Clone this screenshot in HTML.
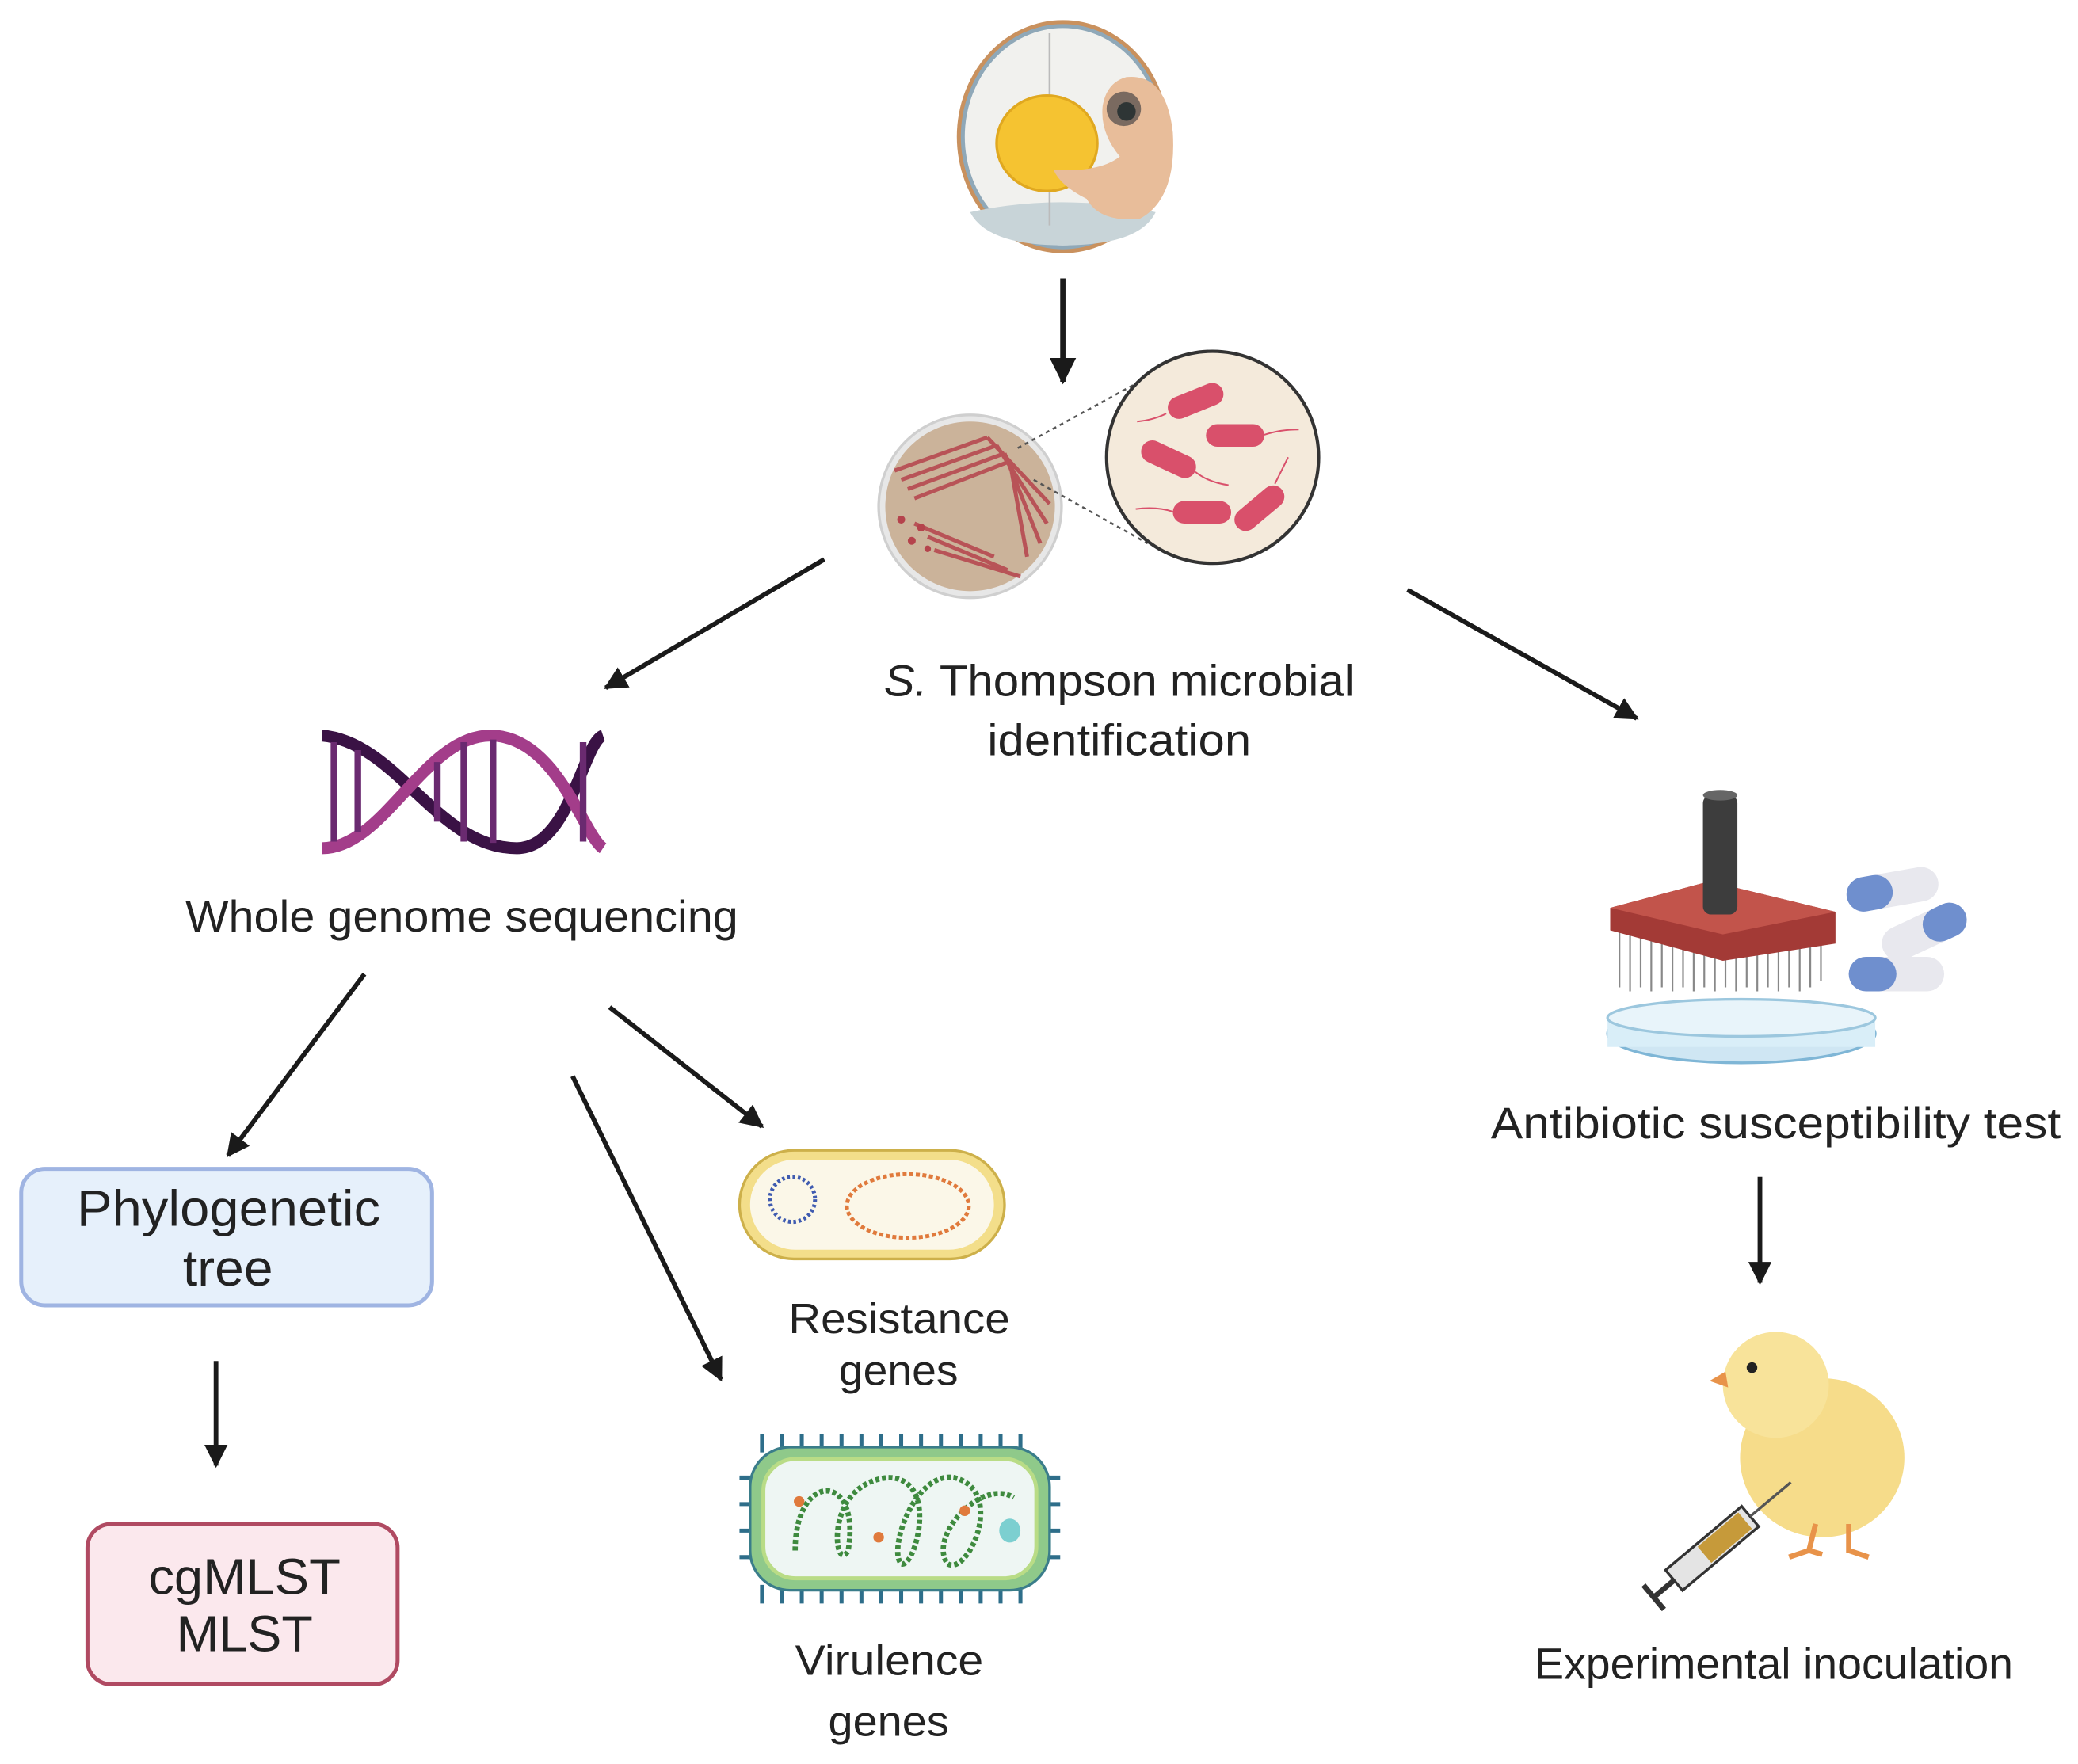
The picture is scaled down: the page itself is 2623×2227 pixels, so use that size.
<!DOCTYPE html>
<html><head><meta charset="utf-8"><style>
html,body{margin:0;padding:0;background:#fff;}
svg{display:block;}
text{font-family:"Liberation Sans",sans-serif;fill:#222;}
</style></head><body>
<svg width="2623" height="2227" viewBox="0 0 1568 1331" xmlns="http://www.w3.org/2000/svg">
<defs>
<marker id="ah" viewBox="0 0 10 10" refX="9" refY="5" markerWidth="5" markerHeight="5" orient="auto-start-reverse" markerUnits="strokeWidth">
<path d="M0,0 L10,5 L0,10 z" fill="#1a1a1a"/></marker>
</defs>
<!-- Egg -->
<ellipse cx="802" cy="103" rx="80" ry="88" fill="#c9915e"/>
<ellipse cx="802" cy="103" rx="77" ry="85" fill="#8fa8b8"/>
<ellipse cx="802" cy="103" rx="74" ry="82" fill="#f1f1ee"/>
<path d="M732,160 Q800,145 872,160 Q860,185 802,185 Q745,185 732,160z" fill="#c8d4d8"/>
<line x1="792" y1="25" x2="792" y2="75" stroke="#bbb" stroke-width="1.5"/>
<line x1="792" y1="140" x2="792" y2="170" stroke="#bbb" stroke-width="1.5"/>
<ellipse cx="790" cy="108" rx="38" ry="36" fill="#f5c331" stroke="#e0a820" stroke-width="2"/>
<path d="M850,58 Q880,55 885,100 Q888,150 860,165 Q830,168 820,150 Q800,140 795,128 Q830,130 845,118 Q830,100 832,80 Q835,62 850,58z" fill="#e8bd9a"/>
<circle cx="848" cy="82" r="13" fill="#7a6a60"/><circle cx="850" cy="84" r="7" fill="#2e3535"/>
<line x1="802" y1="210" x2="802" y2="288" stroke="#1a1a1a" stroke-width="4" marker-end="url(#ah)"/>
<!-- petri -->
<circle cx="732" cy="382" r="69" fill="#e7e7e7" stroke="#cfcfcf" stroke-width="2"/>
<circle cx="732" cy="382" r="64" fill="#cbb39a"/>
<g stroke="#b5434c" stroke-width="3" fill="none" opacity="0.85">
<path d="M675,355 L745,330 M680,362 L752,336 M685,369 L758,342 M690,376 L762,348"/>
<path d="M752,336 L790,395 M758,342 L785,410 M762,348 L775,420 M745,330 L792,380"/>
<path d="M700,405 L760,430 M705,415 L770,435 M690,395 L750,420"/>
</g>
<g fill="#b5434c"><circle cx="680" cy="392" r="3"/><circle cx="695" cy="398" r="3"/><circle cx="688" cy="408" r="3"/><circle cx="700" cy="414" r="2.5"/></g>
<g stroke="#555" stroke-width="1.5" stroke-dasharray="3,3"><line x1="768" y1="338" x2="856" y2="290"/><line x1="780" y1="362" x2="866" y2="410"/></g>
<circle cx="915" cy="345" r="80" fill="#f4eadb" stroke="#333" stroke-width="2.5"/>
<g fill="#d9506b">
<rect x="880" y="294" width="44" height="17" rx="8.5" transform="rotate(-22 902 302)"/>
<rect x="910" y="320" width="44" height="17" rx="8.5"/>
<rect x="860" y="338" width="44" height="17" rx="8.5" transform="rotate(25 882 346)"/>
<rect x="885" y="378" width="44" height="17" rx="8.5"/>
<rect x="928" y="375" width="44" height="17" rx="8.5" transform="rotate(-40 950 383)"/>
</g>
<g stroke="#d9506b" stroke-width="1.2" fill="none">
<path d="M880,312 q-10,5 -22,6"/><path d="M954,328 q12,-4 26,-4"/><path d="M902,356 q10,8 25,10"/><path d="M885,386 q-12,-4 -28,-2"/><path d="M962,365 q6,-12 10,-20"/>
</g>
<text x="667" y="525" font-size="33" textLength="355" lengthAdjust="spacingAndGlyphs"><tspan font-style="italic">S.</tspan> Thompson microbial</text>
<text x="745" y="570" font-size="33" textLength="199" lengthAdjust="spacingAndGlyphs">identification</text>
<line x1="622" y1="422" x2="457" y2="519" stroke="#1a1a1a" stroke-width="3.5" marker-end="url(#ah)"/>
<line x1="1062" y1="445" x2="1235" y2="542" stroke="#1a1a1a" stroke-width="3.5" marker-end="url(#ah)"/>
<!-- DNA -->
<g fill="none" stroke-width="9">
<path d="M243,555 C300,560 330,640 390,640 C430,640 440,560 455,555" stroke="#3a1245"/>
<path d="M243,640 C290,640 320,555 370,555 C420,555 440,630 455,640" stroke="#a33d8a"/>
</g>
<g stroke="#6a2a70" stroke-width="5">
<line x1="252" y1="560" x2="252" y2="635"/><line x1="270" y1="566" x2="270" y2="628"/><line x1="330" y1="575" x2="330" y2="620"/><line x1="350" y1="560" x2="350" y2="635"/><line x1="372" y1="558" x2="372" y2="636"/><line x1="440" y1="560" x2="440" y2="635"/>
</g>
<text x="140" y="703" font-size="33" textLength="417" lengthAdjust="spacingAndGlyphs">Whole genome sequencing</text>
<line x1="275" y1="735" x2="172" y2="872" stroke="#1a1a1a" stroke-width="3.5" marker-end="url(#ah)"/>
<line x1="460" y1="760" x2="575" y2="850" stroke="#1a1a1a" stroke-width="3.5" marker-end="url(#ah)"/>
<line x1="432" y1="812" x2="544" y2="1041" stroke="#1a1a1a" stroke-width="3.5" marker-end="url(#ah)"/>
<rect x="16" y="882" width="310" height="103" rx="18" fill="#e6f0fb" stroke="#9fb4e2" stroke-width="3"/>
<text x="58" y="925" font-size="38" textLength="229" lengthAdjust="spacingAndGlyphs">Phylogenetic</text>
<text x="138" y="970" font-size="38" textLength="68" lengthAdjust="spacingAndGlyphs">tree</text>
<line x1="163" y1="1027" x2="163" y2="1106" stroke="#1a1a1a" stroke-width="3.5" marker-end="url(#ah)"/>
<rect x="66" y="1150" width="234" height="121" rx="18" fill="#fbe8ed" stroke="#b04a62" stroke-width="3"/>
<text x="112" y="1203" font-size="38" textLength="145" lengthAdjust="spacingAndGlyphs">cgMLST</text>
<text x="133" y="1246" font-size="38" textLength="103" lengthAdjust="spacingAndGlyphs">MLST</text>
<!-- resistance cell -->
<rect x="558" y="868" width="200" height="82" rx="41" fill="#f3de8a" stroke="#cdb04a" stroke-width="2"/>
<rect x="566" y="875" width="184" height="68" rx="34" fill="#fbf7e8"/>
<circle cx="598" cy="905" r="17" fill="none" stroke="#3f5bb0" stroke-width="3" stroke-dasharray="2,2"/>
<ellipse cx="685" cy="910" rx="46" ry="24" fill="none" stroke="#e07a3c" stroke-width="3" stroke-dasharray="3,2"/>
<text x="595" y="1006" font-size="32" textLength="167" lengthAdjust="spacingAndGlyphs">Resistance</text>
<text x="633" y="1045" font-size="32" textLength="90" lengthAdjust="spacingAndGlyphs">genes</text>
<!-- virulence cell -->
<g stroke="#2e6e8a" stroke-width="3">
<path d="M575,1082 v14 M590,1082 v14 M605,1082 v14 M620,1082 v14 M635,1082 v14 M650,1082 v14 M665,1082 v14 M680,1082 v14 M695,1082 v14 M710,1082 v14 M725,1082 v14 M740,1082 v14 M755,1082 v14 M770,1082 v14"/>
<path d="M575,1196 v14 M590,1196 v14 M605,1196 v14 M620,1196 v14 M635,1196 v14 M650,1196 v14 M665,1196 v14 M680,1196 v14 M695,1196 v14 M710,1196 v14 M725,1196 v14 M740,1196 v14 M755,1196 v14 M770,1196 v14"/>
<path d="M558,1115 h12 M558,1135 h12 M558,1155 h12 M558,1175 h12 M788,1115 h12 M788,1135 h12 M788,1155 h12 M788,1175 h12"/>
</g>
<rect x="566" y="1092" width="226" height="108" rx="30" fill="#8fc98a" stroke="#3a7d8a" stroke-width="2"/>
<rect x="576" y="1101" width="206" height="90" rx="24" fill="#eef6f3" stroke="#b9dc86" stroke-width="3"/>
<path d="M600,1170 C600,1110 650,1110 640,1170 C630,1190 620,1120 670,1115 C710,1115 690,1185 680,1180 C670,1170 690,1110 720,1115 C760,1125 730,1190 715,1180 C700,1160 740,1115 765,1130" fill="none" stroke="#3e8a3e" stroke-width="4" stroke-dasharray="3,2"/>
<circle cx="603" cy="1133" r="4" fill="#e07a3c"/><circle cx="663" cy="1160" r="4" fill="#e07a3c"/><circle cx="728" cy="1140" r="4" fill="#e07a3c"/>
<ellipse cx="762" cy="1155" rx="8" ry="9" fill="#7ccfd0"/>
<text x="600" y="1264" font-size="32" textLength="142" lengthAdjust="spacingAndGlyphs">Virulence</text>
<text x="625" y="1310" font-size="32" textLength="91" lengthAdjust="spacingAndGlyphs">genes</text>
<!-- antibiotic replicator -->
<ellipse cx="1314" cy="780" rx="101" ry="22" fill="#cfe6f3" stroke="#7fb6d6" stroke-width="2"/>
<rect x="1213" y="768" width="202" height="22" fill="#d9eef8"/>
<ellipse cx="1314" cy="768" rx="101" ry="14" fill="#e8f4fa" stroke="#9cc7de" stroke-width="2"/>
<g stroke="#888" stroke-width="1.3">
<path d="M1222,700 v45 M1230,700 v48 M1238,700 v45 M1246,700 v48 M1254,700 v45 M1262,700 v48 M1270,700 v45 M1278,700 v48 M1286,700 v45 M1294,700 v48 M1302,700 v45 M1310,700 v48 M1318,700 v45 M1326,700 v48 M1334,700 v45 M1342,700 v48 M1350,700 v45 M1358,700 v48 M1366,700 v45 M1374,700 v40"/>
</g>
<path d="M1215,685 L1290,665 L1385,688 L1385,712 L1300,725 L1215,702z" fill="#a33a36"/>
<path d="M1215,685 L1290,665 L1385,688 L1300,705z" fill="#c2544b"/>
<rect x="1285" y="600" width="26" height="90" rx="6" fill="#3d3d3d"/>
<ellipse cx="1298" cy="600" rx="13" ry="4" fill="#666"/>
<g>
<rect x="1393" y="658" width="70" height="26" rx="13" fill="#e8e8ee" transform="rotate(-10 1428 671)"/>
<rect x="1393" y="658" width="35" height="26" rx="13" fill="#6f8fce" transform="rotate(-10 1428 671)"/>
<rect x="1418" y="690" width="68" height="26" rx="13" fill="#e8e8ee" transform="rotate(-25 1452 703)"/>
<rect x="1452" y="690" width="34" height="26" rx="13" fill="#6f8fce" transform="rotate(-25 1452 703)"/>
<rect x="1395" y="722" width="72" height="26" rx="13" fill="#e8e8ee"/>
<rect x="1395" y="722" width="36" height="26" rx="13" fill="#6f8fce"/>
</g>
<text x="1125" y="859" font-size="33" textLength="430" lengthAdjust="spacingAndGlyphs">Antibiotic susceptibility test</text>
<line x1="1328" y1="888" x2="1328" y2="968" stroke="#1a1a1a" stroke-width="3.5" marker-end="url(#ah)"/>
<!-- chick -->
<ellipse cx="1375" cy="1100" rx="62" ry="60" fill="#f6dc8a"/>
<circle cx="1340" cy="1045" r="40" fill="#f8e39a"/>
<circle cx="1322" cy="1032" r="4" fill="#222"/>
<path d="M1302,1035 L1290,1042 L1304,1047z" fill="#e8934a"/>
<path d="M1370,1150 l-5,20 l-15,5 M1365,1170 l10,3 M1395,1150 l0,20 l15,5" stroke="#e8934a" stroke-width="4" fill="none"/>
<g transform="rotate(-40 1290 1170)">
<rect x="1255" y="1160" width="75" height="20" fill="#e4e4e4" stroke="#333" stroke-width="2"/>
<rect x="1285" y="1162" width="40" height="16" fill="#c69a3a"/>
<line x1="1330" y1="1170" x2="1370" y2="1170" stroke="#555" stroke-width="2"/>
<line x1="1255" y1="1170" x2="1235" y2="1170" stroke="#333" stroke-width="4"/>
<line x1="1235" y1="1158" x2="1235" y2="1182" stroke="#333" stroke-width="4"/>
</g>
<text x="1158" y="1267" font-size="33" textLength="361" lengthAdjust="spacingAndGlyphs">Experimental inoculation</text>
</svg>
</body></html>
